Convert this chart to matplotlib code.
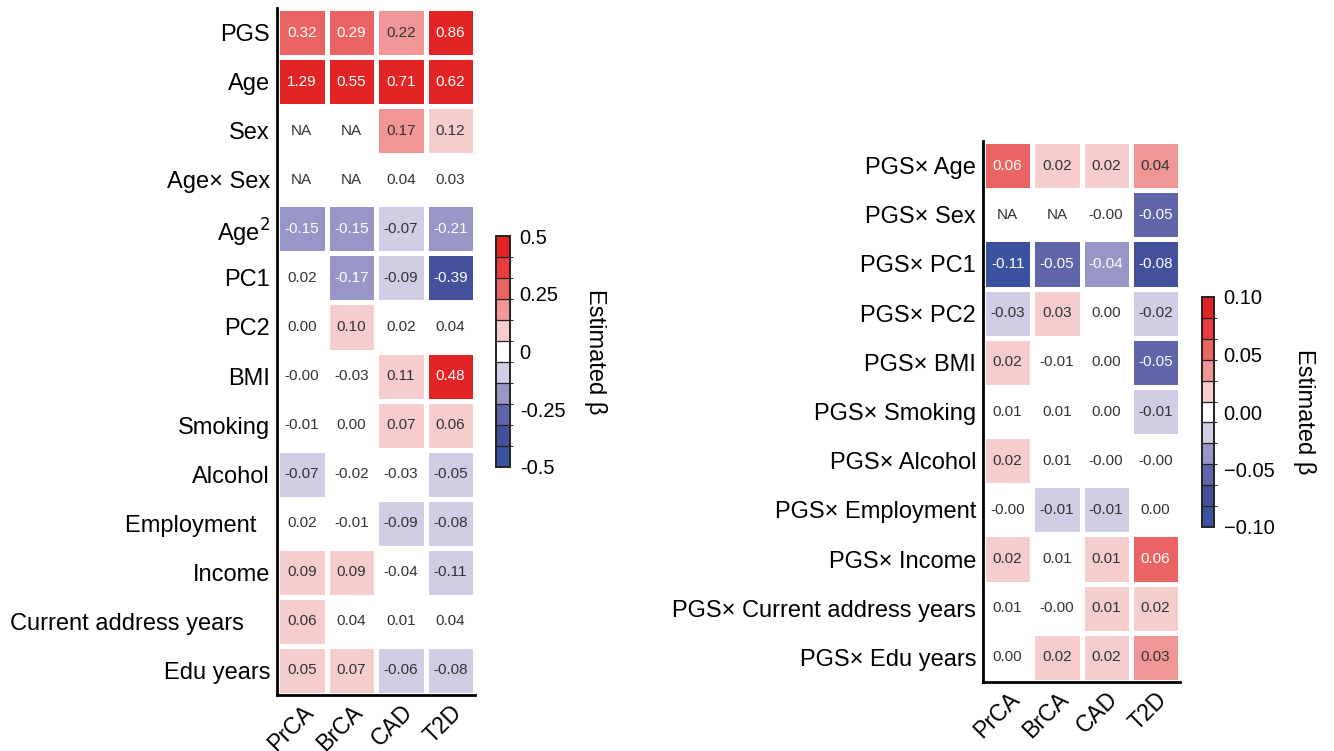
import numpy as np
import matplotlib
matplotlib.use("Agg")
import matplotlib.pyplot as plt
from matplotlib.colors import ListedColormap, BoundaryNorm, to_rgb

plt.rcParams['font.family'] = ['Liberation Sans', 'DejaVu Sans']

# ---------------- data ----------------
diseases = ["PrCA", "BrCA", "CAD", "T2D"]

left_rows = ["PGS", "Age", "Sex", "Age× Sex", "Age$^2$", "PC1", "PC2", "BMI",
             "Smoking", "Alcohol", "Employment  ", "Income",
             "Current address years    ", "Edu years"]
nan = np.nan
left_prca = [0.316, 1.29, nan, nan, -0.15, 0.02, 0.00, -0.001, -0.01, -0.07, 0.02, 0.09, 0.06, 0.05]
left_brca = [0.29, 0.55, nan, nan, -0.15, -0.17, 0.10, -0.03, 0.00, -0.02, -0.01, 0.09, 0.04, 0.07]
left_cad = [0.22, 0.71, 0.17, 0.04, -0.07, -0.09, 0.02, 0.11, 0.07, -0.03, -0.09, -0.04, 0.01, -0.06]
left_t2d = [0.86, 0.62, 0.12, 0.03, -0.21, -0.39, 0.04, 0.48, 0.06, -0.05, -0.08, -0.11, 0.04, -0.08]

right_rows = ["PGS× Age", "PGS× Sex", "PGS× PC1", "PGS× PC2", "PGS× BMI",
              "PGS× Smoking", "PGS× Alcohol", "PGS× Employment", "PGS× Income",
              "PGS× Current address years", "PGS× Edu years"]
right_prca = [0.06, nan, -0.11, -0.026, 0.02, 0.008, 0.02, -0.001, 0.02, 0.008, 0.00]
right_brca = [0.02, nan, -0.05, 0.026, -0.008, 0.008, 0.008, -0.012, 0.008, -0.001, 0.02]
right_cad = [0.02, -0.001, -0.04, 0.00, 0.00, 0.00, -0.001, -0.012, 0.012, 0.012, 0.02]
right_t2d = [0.04, -0.05, -0.08, -0.02, -0.05, -0.012, -0.001, 0.00, 0.06, 0.02, 0.03]

left_cbar_ticks = [-0.5, -0.25, 0, 0.25, 0.5]
left_cbar_labels = ["-0.5", "-0.25", "0", "0.25", "0.5"]
right_cbar_ticks = [-0.10, -0.05, 0.0, 0.05, 0.10]
right_cbar_labels = ["\u22120.10", "\u22120.05", "0.00", "0.05", "0.10"]

# ---------------- colours ----------------
bin_colors = ["#3A52A0", "#44509B", "#6064A8", "#9896C6", "#D0CDE4", "#FFFFFF",
              "#F5CDCD", "#F09696", "#EB6464", "#E83C3C", "#E32424"]
cmap = ListedColormap(bin_colors)
cmap.set_bad("white")

W, H = 1334, 751
fig = plt.figure(figsize=(W / 100, H / 100), dpi=100)


def fr(x0, y0, x1, y1):
    return [x0 / W, 1 - y1 / H, (x1 - x0) / W, (y1 - y0) / H]


def heat(ax, cax, rows, cols_vals, vmax, ticks, ticklabels):
    data = np.array(cols_vals, dtype=float).T  # rows x cols
    nb = len(bin_colors)
    bounds = np.linspace(-vmax, vmax, nb + 1)
    norm = BoundaryNorm(bounds, nb)
    shown = np.ma.masked_invalid(np.clip(data, -vmax * 0.999, vmax * 0.999))
    m = ax.pcolormesh(np.arange(data.shape[1] + 1), np.arange(data.shape[0] + 1), shown,
                      cmap=cmap, norm=norm, edgecolors="white", linewidth=2.2)
    ax.set_xlim(0, data.shape[1])
    ax.set_ylim(data.shape[0], 0)
    for i in range(data.shape[0]):
        for j in range(data.shape[1]):
            v = data[i, j]
            if np.isnan(v):
                txt, col = "NA", "#333333"
            else:
                txt = f"{v:.2f}"
                c = to_rgb(cmap(norm(np.clip(v, -vmax * 0.999, vmax * 0.999))))
                lum = 0.299 * c[0] + 0.587 * c[1] + 0.114 * c[2]
                col = "white" if lum < 0.65 else "#333333"
            ax.text(j + 0.5, i + 0.5, txt, ha="center", va="center", fontsize=11,
                    color=col)
    ax.set_xticks(np.arange(data.shape[1]) + 0.5)
    ax.set_xticklabels(diseases, rotation=45, ha="right", rotation_mode="anchor",
                       fontsize=16.5)
    ax.set_yticks(np.arange(data.shape[0]) + 0.5)
    ax.set_yticklabels(rows, fontsize=17)
    ax.tick_params(length=0, pad=5)
    ax.tick_params(axis="x", pad=4)
    for s in ["top", "right"]:
        ax.spines[s].set_visible(False)
    for s in ["left", "bottom"]:
        ax.spines[s].set_linewidth(2)
        ax.spines[s].set_color("black")
    cb = fig.colorbar(m, cax=cax, drawedges=True)
    cb.set_ticks(ticks)
    cb.set_ticklabels(ticklabels)
    cb.ax.tick_params(length=0, labelsize=14.5, pad=7)
    cb.outline.set_linewidth(1.4)
    cb.outline.set_edgecolor("#222222")
    cb.dividers.set_color("#222222")
    cb.dividers.set_linewidth(0.9)
    cb.set_label("Estimated \u03b2", rotation=270, fontsize=17, labelpad=30)
    return cb


ax1 = fig.add_axes(fr(277, 8, 475, 695))
cax1 = fig.add_axes(fr(496, 236, 510, 467))
heat(ax1, cax1, left_rows, [left_prca, left_brca, left_cad, left_t2d], 0.5,
     left_cbar_ticks, left_cbar_labels)

ax2 = fig.add_axes(fr(983, 141, 1180, 682))
cax2 = fig.add_axes(fr(1202, 297, 1214, 527))
heat(ax2, cax2, right_rows, [right_prca, right_brca, right_cad, right_t2d], 0.10,
     right_cbar_ticks, right_cbar_labels)

fig.savefig("out.png", dpi=100)
